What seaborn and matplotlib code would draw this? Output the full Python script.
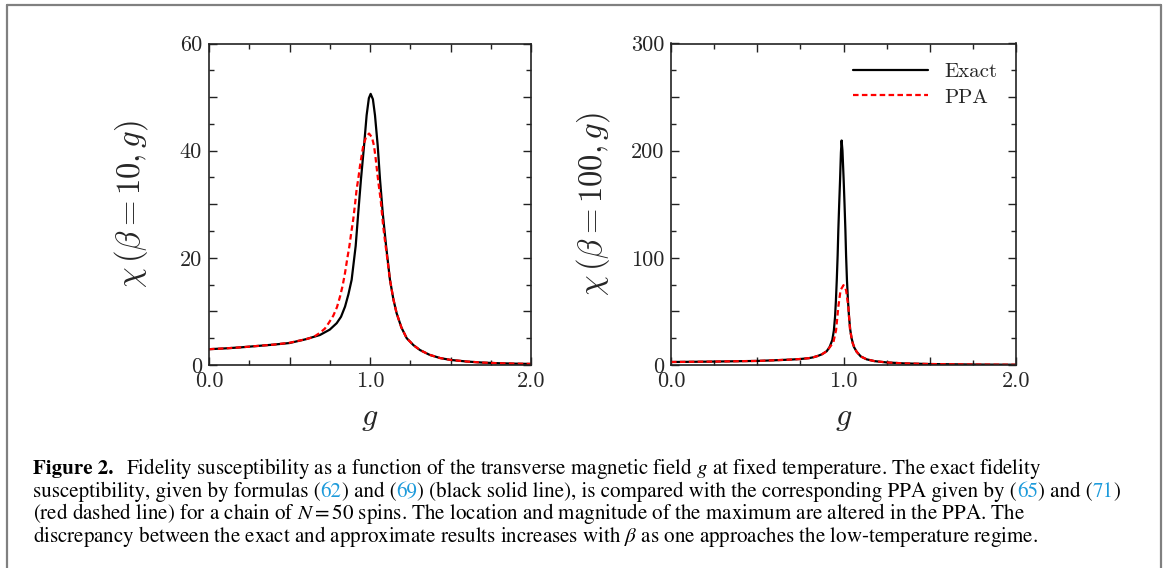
import matplotlib
matplotlib.use("Agg")
import matplotlib.pyplot as plt
import numpy as np
import pandas as pd
import seaborn as sns
from matplotlib.ticker import MultipleLocator, FuncFormatter
from matplotlib.lines import Line2D

# beta = 10 : exact fidelity susceptibility
g_exact10 = [0.0, 0.1, 0.2, 0.3, 0.4, 0.5, 0.6, 0.689, 0.75, 0.793, 0.82, 0.845, 0.866,
             0.886, 0.911, 0.927, 0.944, 0.963, 0.979, 0.993, 1.004, 1.018, 1.031, 1.048,
             1.062, 1.079, 1.1, 1.124, 1.145, 1.165, 1.195, 1.228, 1.27, 1.31, 1.37, 1.435,
             1.5, 1.6, 1.7, 1.8, 1.9, 2.0]
chi_exact10 = [2.95, 3.1, 3.3, 3.55, 3.8, 4.1, 4.8, 5.6, 6.6, 7.8, 9.0, 10.9, 13.2,
               15.9, 22.2, 28.4, 34.7, 40.9, 46.6, 49.8, 50.6, 49.6, 46.6, 40.9,
               34.7, 28.4, 22.2, 15.9, 12.3, 9.7, 7.0, 5.0, 3.7, 2.8, 1.9, 1.3,
               0.95, 0.65, 0.45, 0.33, 0.25, 0.2]

# beta = 10 : PPA
g_ppa10 = [0.0, 0.1, 0.2, 0.3, 0.4, 0.5, 0.6, 0.648, 0.689, 0.72, 0.745, 0.772, 0.795,
           0.814, 0.83, 0.845, 0.858, 0.872, 0.884, 0.896, 0.907, 0.917, 0.927, 0.938,
           0.958, 0.975, 0.994, 1.012, 1.025, 1.035, 1.045, 1.055, 1.066, 1.074, 1.082,
           1.092, 1.103, 1.124, 1.145, 1.165, 1.195, 1.228, 1.27, 1.31, 1.37, 1.435,
           1.5, 1.6, 1.7, 1.8, 1.9, 2.0]
chi_ppa10 = [2.95, 3.1, 3.3, 3.55, 3.8, 4.15, 4.8, 5.2, 6.0, 6.8, 7.9, 9.2, 10.8,
             12.8, 14.8, 17.2, 19.7, 22.2, 24.8, 27.2, 30.0, 32.8, 34.7, 37.2,
             40.9, 42.5, 43.2, 42.5, 40.9, 38.6, 35.9, 33.4, 30.9, 28.4, 25.9,
             23.4, 20.9, 15.9, 12.3, 9.7, 7.0, 5.0, 3.7, 2.8, 1.9, 1.3,
             0.95, 0.65, 0.45, 0.33, 0.25, 0.2]

# beta = 100 : exact
g_exact100 = [0.0, 0.25, 0.5, 0.6, 0.7, 0.75, 0.8, 0.825, 0.85, 0.875, 0.903, 0.92,
              0.935, 0.944, 0.951, 0.956, 0.961, 0.966, 0.970, 0.975, 0.980, 0.985,
              0.989, 0.994, 1.001, 1.006, 1.011, 1.015, 1.02, 1.026, 1.032, 1.039,
              1.047, 1.06, 1.076, 1.1, 1.134, 1.18, 1.25, 1.35, 1.5, 1.75, 2.0]
chi_exact100 = [2.8, 3.2, 3.8, 4.4, 5.1, 5.6, 6.4, 7.2, 8.4, 10.0, 12.9, 17.0,
                23.3, 32.0, 45.0, 60.0, 79.2, 102.0, 125.8, 150.0, 172.4, 198.0,
                209.5, 200.0, 172.4, 150.0, 125.8, 102.0, 79.2, 60.0, 45.0, 33.0,
                24.8, 17.0, 12.4, 8.0, 5.3, 3.6, 2.4, 1.5, 0.9, 0.45, 0.25]

# beta = 100 : PPA
g_ppa100 = [0.0, 0.25, 0.5, 0.6, 0.7, 0.75, 0.8, 0.825, 0.85, 0.875, 0.903, 0.92,
            0.941, 0.957, 0.970, 0.983, 1.0, 1.015, 1.028, 1.038, 1.053, 1.076, 1.1,
            1.134, 1.18, 1.25, 1.35, 1.5, 1.75, 2.0]
chi_ppa100 = [2.8, 3.2, 3.8, 4.4, 5.1, 5.6, 6.4, 7.2, 8.4, 10.0, 12.9, 16.5,
              21.0, 32.6, 54.3, 69.9, 74.5, 69.9, 54.3, 32.6, 20.2, 12.4, 8.0,
              5.3, 3.6, 2.4, 1.5, 0.9, 0.45, 0.25]

sns.set_style("ticks")
plt.rcParams["font.family"] = ["cmr10", "DejaVu Serif"]
plt.rcParams["mathtext.fontset"] = "cm"
plt.rcParams["axes.formatter.use_mathtext"] = True
plt.rcParams["xtick.direction"] = "in"
plt.rcParams["ytick.direction"] = "in"
plt.rcParams["xtick.top"] = True
plt.rcParams["ytick.right"] = True
plt.rcParams["xtick.major.size"] = 6
plt.rcParams["ytick.major.size"] = 6
plt.rcParams["xtick.minor.size"] = 3.3
plt.rcParams["ytick.minor.size"] = 3.3
plt.rcParams["xtick.major.width"] = 1
plt.rcParams["ytick.major.width"] = 1
plt.rcParams["xtick.minor.width"] = 1
plt.rcParams["ytick.minor.width"] = 1
plt.rcParams["axes.linewidth"] = 1.2
plt.rcParams["axes.edgecolor"] = "#222222"

W, H = 1174, 568
fig = plt.figure(figsize=(W / 100, H / 100), dpi=100)
ax1 = fig.add_axes([209 / W, 1 - 365 / H, 322 / W, 321.5 / H])
ax2 = fig.add_axes([671 / W, 1 - 365 / H, 345 / W, 321.5 / H])

dash = (0, (2.5, 1.5))
sns.lineplot(x=g_exact10, y=chi_exact10, ax=ax1, color="black", lw=1.6, sort=False)
sns.lineplot(x=g_ppa10, y=chi_ppa10, ax=ax1, color="red", lw=1.6, linestyle=dash, sort=False)
sns.lineplot(x=g_exact100, y=chi_exact100, ax=ax2, color="black", lw=1.6, sort=False, label="Exact")
sns.lineplot(x=g_ppa100, y=chi_ppa100, ax=ax2, color="red", lw=1.6, linestyle=dash, sort=False, label="PPA")


def fmt_every(step, dec):
    def f(v, pos):
        if abs(v / step - round(v / step)) < 1e-6:
            return f"{v:.{dec}f}"
        return ""
    return FuncFormatter(f)


for ax, ymax, ymaj, ylab_step, ylabel, lx in [
    (ax1, 60, 10, 20, r"$\chi\,(\beta = 10, g)$", -0.183),
    (ax2, 300, 50, 100, r"$\chi\,(\beta = 100, g)$", -0.171),
]:
    ax.set_xlim(0, 2)
    ax.set_ylim(0, ymax)
    ax.xaxis.set_major_locator(MultipleLocator(0.5))
    ax.xaxis.set_minor_locator(MultipleLocator(0.25))
    ax.xaxis.set_major_formatter(fmt_every(1.0, 1))
    ax.yaxis.set_major_locator(MultipleLocator(ymaj))
    ax.yaxis.set_minor_locator(MultipleLocator(ymaj / 2))
    ax.yaxis.set_major_formatter(fmt_every(ylab_step, 0))
    ax.tick_params(which="both", labelsize=16, color="#222222")
    ax.tick_params(axis="x", pad=5)
    ax.tick_params(axis="y", pad=5)
    ax.set_xlabel(r"$g$", fontsize=23)
    ax.set_ylabel(ylabel, fontsize=23.5)
    ax.yaxis.set_label_coords(lx, 0.5)
    ax.xaxis.set_label_coords(0.5, -0.125)
    for s in ax.spines.values():
        s.set_visible(True)

ax2.legend(loc="upper right", frameon=False, fontsize=15, handlelength=3.6,
           handletextpad=0.8, labelspacing=0.35, borderaxespad=0.5)

# grey frame around the figure
frame_kw = dict(color="#808080", lw=1.6, transform=fig.transFigure)
fig.add_artist(Line2D([7 / W, 7 / W], [0, 1 - 4.5 / H], **frame_kw))
fig.add_artist(Line2D([7 / W, 1160.5 / W], [1 - 4.5 / H, 1 - 4.5 / H], **frame_kw))
fig.add_artist(Line2D([1160.5 / W, 1160.5 / W], [0, 1 - 4.5 / H], **frame_kw))

# caption
blue = "#1E9BDB"
cap_size = 15.1
cap_kw = dict(fontsize=cap_size, family="STIXGeneral", math_fontfamily="stix", va="baseline")
caption = [
    (474, [("Figure 2.", "black", "bold", 13),
           (r"Fidelity susceptibility as a function of the transverse magnetic field $g$ at fixed temperature. The exact fidelity", "black", "normal", 0)]),
    (497, [("susceptibility, given by formulas (", "black", "normal", 0), ("62", blue, "normal", 0),
           (") and (", "black", "normal", 0), ("69", blue, "normal", 0),
           (") (black solid line), is compared with the corresponding PPA given by (", "black", "normal", 0),
           ("65", blue, "normal", 0), (") and (", "black", "normal", 0), ("71", blue, "normal", 0),
           (")", "black", "normal", 0)]),
    (519, [(r"(red dashed line) for a chain of $N = 50$ spins. The location and magnitude of the maximum are altered in the PPA. The", "black", "normal", 0)]),
    (542, [(r"discrepancy between the exact and approximate results increases with $\beta$ as one approaches the low-temperature regime.", "black", "normal", 0)]),
]

fig.canvas.draw()
renderer = fig.canvas.get_renderer()
for ypix, segs in caption:
    x = 33
    for txt, col, wt, gap in segs:
        t = fig.text(x / W, 1 - ypix / H, txt, color=col, fontweight=wt, **cap_kw)
        bb = t.get_window_extent(renderer)
        x = bb.x1 + gap

fig.savefig("out.png", dpi=100)
